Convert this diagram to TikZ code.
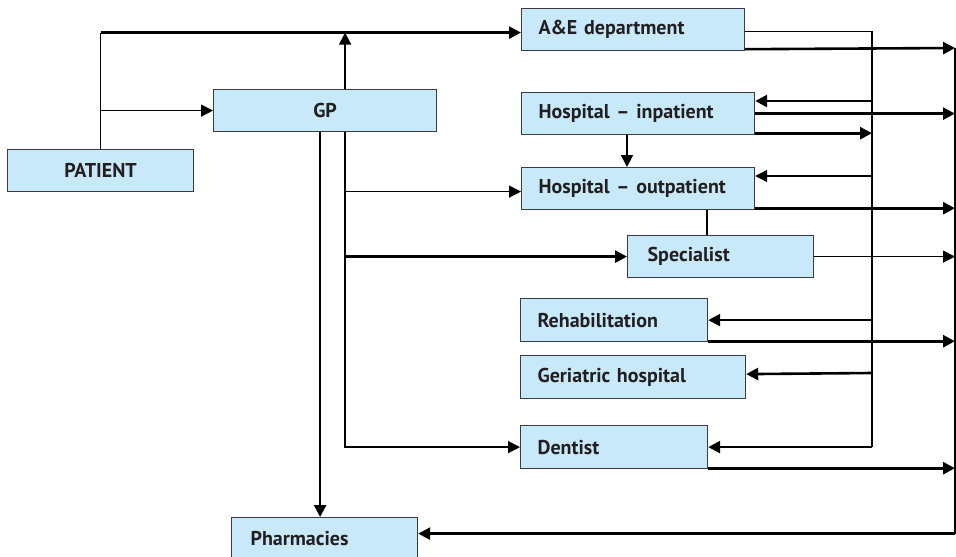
\documentclass[tikz,border=0pt]{standalone}
\usepackage{fontspec}
\setmainfont{PT Sans}
\usetikzlibrary{arrows.meta}
\definecolor{boxfill}{RGB}{199,233,249}
\definecolor{boxline}{RGB}{60,60,60}
\definecolor{ink}{RGB}{35,31,32}
\tikzset{
  box/.style={draw=boxline, fill=boxfill, line width=0.6pt, anchor=north west,
    minimum height=21pt, inner ysep=0pt, text=ink, font=\bfseries},
  lbox/.style={box, inner xsep=8.5pt, text width=#1, align=left},
  thin line/.style={line width=0.65pt},
  mid line/.style={line width=0.9pt},
  thick line/.style={line width=1.3pt},
}
\begin{document}
\begin{tikzpicture}[x=0.5pt, y=-0.5pt, >={Triangle[length=6pt,width=6pt]}]
\useasboundingbox (0,0) rectangle (956,556);
% boxes
\node[box, minimum width=93pt] (patient) at (7,149) {PATIENT};
\node[box, minimum width=111.5pt] (gp) at (213,89) {GP};
\node[lbox=94.5pt] (ae) at (521,8) {A\&E department};
\node[lbox=99.5pt] (inpat) at (521,92) {Hospital – inpatient};
\node[lbox=99.5pt] (outpat) at (521,167) {Hospital – outpatient};
\node[lbox=73pt, inner xsep=10pt] (spec) at (627,235) {Specialist};
\node[lbox=76.5pt, minimum height=21.5pt] (rehab) at (520,298) {Rehabilitation};
\node[lbox=95.5pt, minimum height=21.5pt] (geri) at (520,355) {Geriatric hospital};
\node[lbox=76.5pt, minimum height=21.5pt] (dent) at (520,425) {Dentist};
\node[lbox=74pt, inner xsep=9.5pt] (pharm) at (231,517) {Pharmacies};
% helper points
\coordinate (aein) at ([yshift=-1.5pt]ae.west);
\coordinate (gpr) at ([xshift=10pt]gp.north);
\coordinate (gpb) at ([xshift=10pt]gp.south);
\coordinate (gpl) at ([xshift=-2.5pt]gp.south);
\coordinate (bus) at (872,31);
\coordinate (edge) at (955,48);
\coordinate (pharmin) at ([yshift=2.5pt]pharm.east);
% patient and GP
\draw[thin line] (patient.north) -- (patient.north |- aein);
\draw[thick line,->] (patient.north |- aein) -- (aein);
\draw[thin line,->] (patient.north |- gp.west) -- (gp.west);
\draw[mid line,->] (gpr) -- (gpr |- aein);
\draw[thick line,->] (gpl) -- (gpl |- pharm.north);
\draw[thin line,->] (gpb) |- (dent.west);
\draw[thin line,->] (gpb |- outpat.west) ++(0,3) -- ([yshift=-1.5pt]outpat.west);
\draw[thick line,->] (gpb |- spec.west) -- (spec.west);
% between hospital boxes
\draw[mid line,->] ([xshift=53pt]inpat.south west) -- ([xshift=53pt]outpat.north west);
\draw[thin line] ([xshift=93pt]outpat.south west) -- ([xshift=93pt]outpat.south west |- spec.north);
% return bus
\draw[thin line] ([yshift=-1pt]ae.east) -| (bus |- dent.east);
\draw[thick line,->] (bus |- 0,101) -- ([yshift=-4.5pt]inpat.north east);
\draw[thick line,->] ([yshift=1pt]inpat.south east) -- ([yshift=1pt]inpat.south east -| bus);
\draw[thin line,->] (bus |- 0,176) -- ([yshift=-4.5pt]outpat.north east);
\draw[thick line,->] (bus |- rehab.east) -- (rehab.east);
\draw[thick line,->] (bus |- 0,373) -- ([yshift=1.5pt]geri.east);
\draw[thick line,->] (bus |- dent.east) -- (dent.east);
% outflow edge
\draw[thick line,->] ([yshift=1pt]ae.south east) -- (edge);
\draw[thick line,->] (inpat.east) -- (inpat.east -| edge);
\draw[thick line,->] ([yshift=1pt]outpat.south east) -- ([yshift=1pt]outpat.south east -| edge);
\draw[thin line,->] (spec.east) -- (spec.east -| edge);
\draw[thick line,->] ([yshift=0.5pt]rehab.south east) -- ([yshift=0.5pt]rehab.south east -| edge);
\draw[thick line,->] ([yshift=0.5pt]dent.south east) -- ([yshift=0.5pt]dent.south east -| edge);
\draw[thin line] (edge) -- (edge |- pharmin);
\draw[thick line,->] (edge |- pharmin) -- (pharmin);
\end{tikzpicture}
\end{document}
